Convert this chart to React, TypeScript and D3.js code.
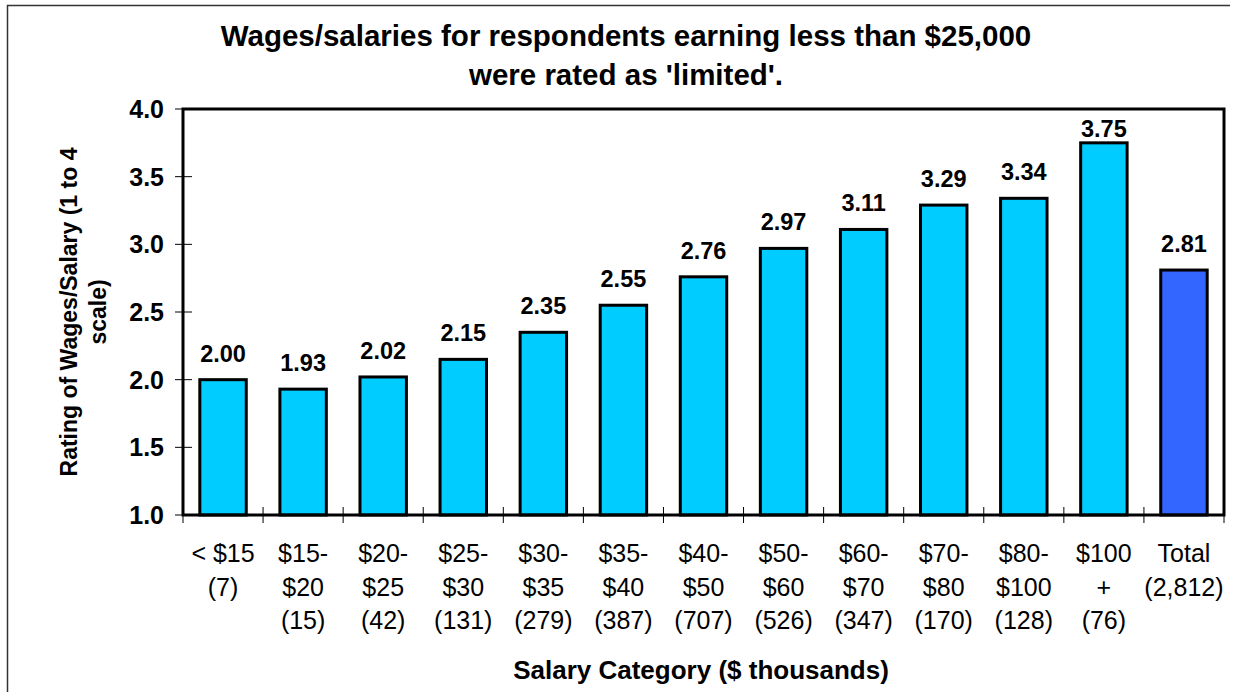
import React from 'react'
import * as d3 from 'd3'

// salary bands (with respondent counts) and mean rating
const categories = [
  '< $15\n(7)',
  '$15-\n$20\n(15)',
  '$20-\n$25\n(42)',
  '$25-\n$30\n(131)',
  '$30-\n$35\n(279)',
  '$35-\n$40\n(387)',
  '$40-\n$50\n(707)',
  '$50-\n$60\n(526)',
  '$60-\n$70\n(347)',
  '$70-\n$80\n(170)',
  '$80-\n$100\n(128)',
  '$100\n+\n(76)',
  'Total\n(2,812)',
]
const ratings = [2.0, 1.93, 2.02, 2.15, 2.35, 2.55, 2.76, 2.97, 3.11, 3.29, 3.34, 3.75, 2.81]
const yTicks = [1.0, 1.5, 2.0, 2.5, 3.0, 3.5, 4.0]

const titleLines = ['Wages/salaries for respondents earning less than $25,000', "were rated as 'limited'."]
const yTitleLines = ['Rating of Wages/Salary (1 to 4', 'scale)']
const xTitle = 'Salary Category ($ thousands)'

const W = 1235
const H = 692
const plot = { left: 183, top: 109, right: 1224, bottom: 515 }
const FONT = 'Arial, "Liberation Sans", sans-serif'

const x = d3
  .scaleBand<number>()
  .domain(d3.range(categories.length))
  .range([plot.left, plot.right])
  .paddingInner(0.42)
  .paddingOuter(0.21)

const y = d3.scaleLinear().domain([1, 4]).range([plot.bottom, plot.top])

const fmtTick = d3.format('.1f')
const fmtVal = d3.format('.2f')

const App = () => {
  const step = x.step()
  const bounds = d3.range(categories.length + 1).map((i) => plot.left + i * step)
  const cx = (i: number) => (x(i) as number) + x.bandwidth() / 2
  // labels sit above the bar, but are kept inside the plot area
  const labelY = (v: number) => Math.max(y(v) - 18, plot.top + 28)

  return (
    <svg
      width={W}
      height={H}
      style={{ position: 'absolute', left: 0, top: 0, background: '#fff' }}
      fontFamily={FONT}
    >
      {/* outer frame (left and top edges only visible) */}
      <path d="M7.5,700 V5.5 H1230" fill="none" stroke="#333" strokeWidth={1.5} />

      {/* title */}
      {titleLines.map((t, i) => (
        <text key={t} x={626} y={46 + i * 39} textAnchor="middle" fontSize={29.5} fontWeight="bold">
          {t}
        </text>
      ))}

      {/* y ticks */}
      {yTicks.map((t) => (
        <g key={t}>
          <line x1={175} x2={192} y1={y(t)} y2={y(t)} stroke="#000" strokeWidth={1} />
          <text x={164} y={y(t)} dy="0.36em" textAnchor="end" fontSize={25} fontWeight="bold">
            {fmtTick(t)}
          </text>
        </g>
      ))}

      {/* x ticks at category boundaries */}
      {bounds.map((b, i) => (
        <line key={i} x1={b} x2={b} y1={507} y2={523} stroke="#000" strokeWidth={1} />
      ))}

      {/* bars */}
      {ratings.map((v, i) => (
        <g key={i}>
          <rect
            x={x(i)}
            y={y(v)}
            width={x.bandwidth()}
            height={y(1) - y(v)}
            fill={i === ratings.length - 1 ? '#3366FF' : '#00CCFF'}
            stroke="#000"
            strokeWidth={3}
          />
          <text x={cx(i)} y={labelY(v)} textAnchor="middle" fontSize={23.5} fontWeight="bold">
            {fmtVal(v)}
          </text>
        </g>
      ))}

      {/* plot frame */}
      <rect
        x={plot.left}
        y={plot.top}
        width={plot.right - plot.left}
        height={plot.bottom - plot.top}
        fill="none"
        stroke="#000"
        strokeWidth={3}
      />

      {/* category labels */}
      {categories.map((c, i) => (
        <text key={i} x={cx(i)} y={562} textAnchor="middle" fontSize={25}>
          {c.split('\n').map((ln, j) => (
            <tspan key={j} x={cx(i)} dy={j === 0 ? 0 : 33.5}>
              {ln}
            </tspan>
          ))}
        </text>
      ))}

      {/* axis titles */}
      <text x={701} y={679} textAnchor="middle" fontSize={26} fontWeight="bold">
        {xTitle}
      </text>
      {yTitleLines.map((t, i) => (
        <text
          key={t}
          transform={`translate(${77 + i * 29},${(plot.top + plot.bottom) / 2}) rotate(-90)`}
          textAnchor="middle"
          fontSize={23}
          fontWeight="bold"
        >
          {t}
        </text>
      ))}
    </svg>
  )
}

export default App
